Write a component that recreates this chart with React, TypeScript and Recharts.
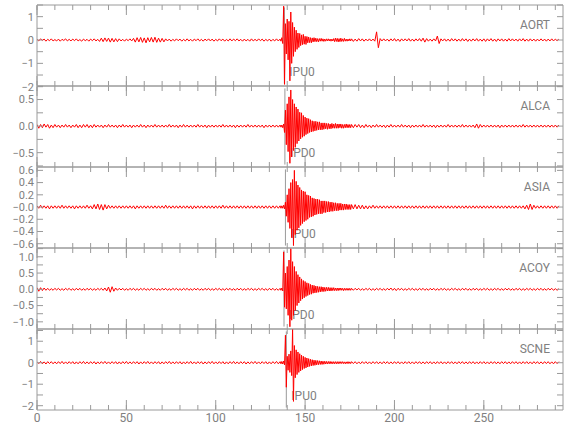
import { LineChart, Line, XAxis, YAxis, ReferenceLine } from "recharts";

// stations, top to bottom
const stations = ["AORT", "ALCA", "ASIA", "ACOY", "SCNE"];
const picks = [138.4, 138.7, 139.0, 138.2, 139.5];
const pickLabels = ["IPU0", "IPD0", "IPU0", "IPD0", "IPU0"];

const xTicks = [0, 50, 100, 150, 200, 250];
const xMinorTicks = [0, 10, 20, 30, 40, 50, 60, 70, 80, 90, 100, 110, 120, 130, 140, 150, 160, 170, 180, 190, 200, 210, 220, 230, 240, 250, 260, 270, 280, 290];

// y axes per station
const yDomains = [[-1.97, 1.5], [-0.77, 0.755], [-0.67, 0.655], [-1.22, 1.27], [-2.2, 1.57]];
const yTicks = [
  [-2, -1, 0, 1],
  [-0.5, 0, 0.5],
  [-0.6, -0.4, -0.2, 0, 0.2, 0.4, 0.6],
  [-1, -0.5, 0, 0.5, 1],
  [-2, -1, 0, 1],
];
const yTickLabels = [
  ["\u22122", "\u22121", "0", "1"],
  ["\u22120.5", "0.0", "0.5"],
  ["\u22120.6", "\u22120.4", "\u22120.2", "\u22120.0", "0.2", "0.4", "0.6"],
  ["\u22121.0", "\u22120.5", "0.0", "0.5", "1.0"],
  ["\u22122", "\u22121", "0", "1"],
];
const yMinorTicks = [
  [-2, -1.5, -1, -0.5, 0, 0.5, 1, 1.5],
  [-0.75, -0.5, -0.25, 0, 0.25, 0.5, 0.75],
  [-0.6, -0.4, -0.2, 0, 0.2, 0.4, 0.6],
  [-1, -0.75, -0.5, -0.25, 0, 0.25, 0.5, 0.75, 1, 1.25],
  [-2, -1.5, -1, -0.5, 0, 0.5, 1, 1.5],
];

// sampling of the traces: quiet part, event window, coda
const PRE_START = 0, PRE_STEP = 1;
const BURST_START = 136, BURST_STEP = 0.5;
const POST_START = 176, POST_STEP = 1;

const aortPre = [
  0.03, -0.04, 0.05, -0.02, 0.04, -0.05, 0.03, -0.03, 0.05, -0.04,
  0.02, -0.04, 0.04, -0.05, 0.03, -0.02, 0.05, -0.04, 0.03, -0.04,
  0.04, -0.03, 0.05, -0.04, 0.02, -0.05, 0.04, -0.03, 0.03, -0.05,
  0.04, -0.03, 0.05, -0.04, 0.03, -0.06, 0.08, -0.07, 0.09, -0.06,
  0.08, -0.09, 0.07, -0.08, 0.06, -0.07, 0.05, -0.04, 0.03, -0.05,
  0.04, -0.03, 0.05, -0.04, 0.07, -0.09, 0.1, -0.08, 0.11, -0.1,
  0.09, -0.12, 0.1, -0.08, 0.11, -0.09, 0.12, -0.1, 0.08, -0.09,
  0.07, -0.08, 0.05, -0.04, 0.04, -0.05, 0.03, -0.04, 0.05, -0.03,
  0.04, -0.05, 0.03, -0.04, 0.05, -0.04, 0.03, -0.05, 0.04, -0.03,
  0.05, -0.04, 0.03, -0.05, 0.04, -0.03, 0.05, -0.04, 0.04, -0.05,
  0.03, -0.04, 0.05, -0.03, 0.04, -0.05, 0.03, -0.04, 0.05, -0.04,
  0.04, -0.03, 0.05, -0.04, 0.03, -0.05, 0.04, -0.04, 0.03, -0.05,
  0.05, -0.04, 0.03, -0.04, 0.05, -0.03, 0.04, -0.05, 0.03, -0.04,
  0.04, -0.05, 0.03, -0.04, 0.05, -0.04,
];
const aortBurst = [
  0.04, -0.05, 0.1, -0.15, 1.45, -1.9, 0.7, -0.6, 0.9, -0.85,
  0.8, -1.75, 1.2, -1.0, 0.75, -0.7, 0.55, -0.5, 0.42, -0.4,
  0.3, -0.32, 0.28, -0.24, 0.22, -0.2, 0.24, -0.18, 0.16, -0.19,
  0.15, -0.12, 0.13, -0.11, 0.1, -0.12, 0.09, -0.08, 0.1, -0.07,
  0.08, -0.07, 0.06, -0.08, 0.06, -0.05, 0.07, -0.05, 0.05, -0.06,
  0.04, -0.05, 0.05, -0.04, 0.05, -0.04, 0.04, -0.05, 0.04, -0.04,
  0.06, -0.07, 0.08, -0.06, 0.07, -0.08, 0.06, -0.07, 0.08, -0.06,
  0.05, -0.06, 0.07, -0.05, 0.04, -0.05, 0.04, -0.04, 0.05, -0.04,
];
const aortPost = [
  0.05, -0.06, 0.04, -0.05, 0.06, -0.04, 0.05, -0.05, 0.04, -0.04,
  0.05, -0.04, 0.04, -0.05, 0.35, -0.33, 0.06, -0.04, 0.05, -0.04,
  0.04, -0.05, 0.05, -0.04, 0.06, -0.05, 0.04, -0.06, 0.05, -0.04,
  0.05, -0.04, 0.06, -0.05, 0.04, -0.05, 0.05, -0.04, 0.06, -0.05,
  0.08, -0.09, 0.06, -0.05, 0.04, -0.05, 0.05, -0.04, 0.17, -0.15,
  0.05, -0.04, 0.05, -0.05, 0.04, -0.05, 0.06, -0.04, 0.05, -0.05,
  0.04, -0.05, 0.06, -0.04, 0.05, -0.06, 0.04, -0.05, 0.05, -0.04,
  0.06, -0.05, 0.04, -0.05, 0.05, -0.06, 0.05, -0.04, 0.06, -0.05,
  0.04, -0.06, 0.05, -0.04, 0.05, -0.05, 0.04, -0.05, 0.06, -0.04,
  0.05, -0.04, 0.04, -0.05, 0.05, -0.04, 0.06, -0.05, 0.04, -0.05,
  0.05, -0.04, 0.04, -0.05, 0.04, -0.04, 0.05, -0.04, 0.04, -0.05,
  0.04, -0.04, 0.05, -0.04, 0.04, -0.03, 0.04,
];

const alcaPre = [
  0.03, -0.04, 0.03, -0.03, 0.04, -0.02, 0.03, -0.04, 0.02, -0.03,
  0.03, -0.02, 0.02, -0.03, 0.02, -0.02, 0.03, -0.02, 0.02, -0.03,
  0.02, -0.02, 0.03, -0.03, 0.02, -0.03, 0.03, -0.02, 0.03, -0.03,
  0.02, -0.03, 0.03, -0.02, 0.02, -0.02, 0.02, -0.03, 0.02, -0.02,
  0.03, -0.02, 0.02, -0.02, 0.02, -0.03, 0.02, -0.02, 0.03, -0.02,
  0.02, -0.02, 0.02, -0.03, 0.02, -0.02, 0.02, -0.02, 0.03, -0.02,
  0.02, -0.03, 0.02, -0.02, 0.02, -0.02, 0.03, -0.02, 0.02, -0.02,
  0.02, -0.02, 0.02, -0.02, 0.03, -0.02, 0.02, -0.02, 0.02, -0.03,
  0.02, -0.02, 0.03, -0.02, 0.02, -0.02, 0.02, -0.02, 0.02, -0.02,
  0.03, -0.02, 0.02, -0.02, 0.02, -0.03, 0.02, -0.02, 0.02, -0.02,
  0.02, -0.02, 0.02, -0.02, 0.03, -0.02, 0.02, -0.02, 0.02, -0.02,
  0.02, -0.03, 0.02, -0.02, 0.02, -0.02, 0.02, -0.02, 0.03, -0.02,
  0.02, -0.02, 0.02, -0.02, 0.02, -0.02, 0.02, -0.03, 0.02, -0.02,
  0.02, -0.02, 0.02, -0.02, 0.02, -0.02,
];
const alcaBurst = [
  0.02, -0.02, 0.02, -0.03, 0.04, -0.12, 0.3, -0.35, 0.42, -0.48,
  0.55, -0.7, 0.68, -0.58, 0.5, -0.46, 0.42, -0.4, 0.36, -0.33,
  0.32, -0.28, 0.26, -0.24, 0.25, -0.21, 0.2, -0.19, 0.17, -0.16,
  0.15, -0.14, 0.14, -0.12, 0.12, -0.11, 0.1, -0.1, 0.09, -0.09,
  0.09, -0.08, 0.08, -0.07, 0.08, -0.07, 0.06, -0.07, 0.06, -0.06,
  0.06, -0.05, 0.05, -0.06, 0.05, -0.05, 0.04, -0.05, 0.05, -0.04,
  0.04, -0.04, 0.05, -0.04, 0.04, -0.04, 0.04, -0.03, 0.04, -0.04,
  0.03, -0.04, 0.03, -0.03, 0.04, -0.03, 0.03, -0.03, 0.03, -0.03,
];
const alcaPost = [
  0.03, -0.03, 0.03, -0.02, 0.03, -0.03, 0.02, -0.03, 0.03, -0.02,
  0.02, -0.03, 0.02, -0.02, 0.03, -0.02, 0.02, -0.02, 0.02, -0.03,
  0.02, -0.02, 0.03, -0.02, 0.02, -0.02, 0.02, -0.02, 0.03, -0.02,
  0.02, -0.02, 0.02, -0.03, 0.02, -0.02, 0.02, -0.02, 0.02, -0.02,
  0.03, -0.02, 0.02, -0.02, 0.02, -0.02, 0.02, -0.03, 0.02, -0.02,
  0.02, -0.02, 0.02, -0.02, 0.03, -0.02, 0.02, -0.02, 0.02, -0.02,
  0.02, -0.02, 0.03, -0.02, 0.02, -0.02, 0.02, -0.02, 0.02, -0.03,
  0.04, -0.04, 0.03, -0.02, 0.02, -0.02, 0.02, -0.02, 0.02, -0.02,
  0.02, -0.02, 0.02, -0.03, 0.02, -0.02, 0.02, -0.02, 0.02, -0.02,
  0.02, -0.02, 0.02, -0.02, 0.02, -0.02, 0.03, -0.02, 0.02, -0.02,
  0.02, -0.02, 0.02, -0.02, 0.02, -0.02, 0.02, -0.02, 0.02, -0.02,
  0.02, -0.02, 0.02, -0.02, 0.02, -0.02, 0.02,
];

const asiaPre = [
  0.02, -0.02, 0.03, -0.02, 0.02, -0.02, 0.02, -0.03, 0.02, -0.02,
  0.02, -0.02, 0.02, -0.02, 0.03, -0.02, 0.02, -0.02, 0.02, -0.02,
  0.02, -0.03, 0.02, -0.02, 0.02, -0.02, 0.02, -0.02, 0.03, -0.02,
  0.02, -0.03, 0.04, -0.03, 0.05, -0.04, 0.04, -0.05, 0.04, -0.03,
  0.03, -0.02, 0.02, -0.02, 0.02, -0.02, 0.02, -0.02, 0.02, -0.02,
  0.02, -0.02, 0.02, -0.02, 0.02, -0.03, 0.02, -0.02, 0.02, -0.02,
  0.02, -0.02, 0.02, -0.02, 0.02, -0.02, 0.02, -0.02, 0.02, -0.02,
  0.02, -0.02, 0.03, -0.02, 0.02, -0.02, 0.02, -0.02, 0.02, -0.02,
  0.02, -0.02, 0.02, -0.02, 0.02, -0.02, 0.02, -0.03, 0.02, -0.02,
  0.02, -0.02, 0.02, -0.02, 0.02, -0.02, 0.02, -0.02, 0.02, -0.02,
  0.02, -0.02, 0.02, -0.02, 0.03, -0.02, 0.02, -0.02, 0.02, -0.02,
  0.02, -0.02, 0.02, -0.02, 0.02, -0.02, 0.02, -0.02, 0.02, -0.02,
  0.02, -0.02, 0.02, -0.02, 0.02, -0.02, 0.02, -0.02, 0.02, -0.02,
  0.02, -0.02, 0.02, -0.02, 0.02, -0.02,
];
const asiaBurst = [
  0.02, -0.02, 0.02, -0.02, 0.03, -0.03, 0.08, -0.15, 0.2, -0.25,
  0.3, -0.35, 0.4, -0.5, 0.45, -0.63, 0.6, -0.45, 0.42, -0.38,
  0.36, -0.34, 0.32, -0.3, 0.28, -0.27, 0.26, -0.24, 0.25, -0.22,
  0.2, -0.2, 0.19, -0.17, 0.18, -0.16, 0.15, -0.15, 0.14, -0.13,
  0.13, -0.12, 0.13, -0.11, 0.12, -0.11, 0.1, -0.11, 0.1, -0.09,
  0.1, -0.09, 0.09, -0.08, 0.09, -0.08, 0.08, -0.07, 0.08, -0.07,
  0.07, -0.06, 0.07, -0.06, 0.06, -0.06, 0.06, -0.05, 0.06, -0.05,
  0.05, -0.05, 0.05, -0.04, 0.05, -0.04, 0.04, -0.04, 0.04, -0.04,
];
const asiaPost = [
  0.04, -0.03, 0.04, -0.03, 0.03, -0.03, 0.03, -0.03, 0.02, -0.03,
  0.02, -0.02, 0.03, -0.02, 0.02, -0.02, 0.02, -0.02, 0.02, -0.02,
  0.02, -0.02, 0.02, -0.02, 0.02, -0.02, 0.02, -0.02, 0.02, -0.02,
  0.02, -0.02, 0.02, -0.02, 0.02, -0.02, 0.02, -0.02, 0.02, -0.02,
  0.02, -0.02, 0.02, -0.02, 0.02, -0.02, 0.02, -0.02, 0.02, -0.02,
  0.02, -0.02, 0.02, -0.02, 0.02, -0.02, 0.02, -0.02, 0.02, -0.02,
  0.02, -0.02, 0.02, -0.02, 0.02, -0.02, 0.02, -0.02, 0.02, -0.02,
  0.02, -0.02, 0.02, -0.02, 0.02, -0.02, 0.02, -0.02, 0.02, -0.02,
  0.02, -0.02, 0.02, -0.02, 0.02, -0.02, 0.02, -0.02, 0.02, -0.02,
  0.02, -0.02, 0.02, -0.02, 0.02, -0.02, 0.02, -0.03, 0.03, -0.04,
  0.05, -0.04, 0.03, -0.02, 0.02, -0.02, 0.02, -0.02, 0.02, -0.02,
  0.02, -0.02, 0.02, -0.02, 0.02, -0.02, 0.02,
];

const acoyPre = [
  0.05, -0.06, 0.05, -0.04, 0.04, -0.03, 0.03, -0.03, 0.02, -0.03,
  0.03, -0.02, 0.03, -0.03, 0.02, -0.03, 0.03, -0.02, 0.03, -0.03,
  0.02, -0.03, 0.03, -0.02, 0.03, -0.03, 0.02, -0.03, 0.03, -0.02,
  0.03, -0.03, 0.02, -0.03, 0.03, -0.02, 0.03, -0.03, 0.04, -0.05,
  0.07, -0.09, 0.08, -0.06, 0.04, -0.03, 0.03, -0.02, 0.03, -0.03,
  0.02, -0.03, 0.03, -0.02, 0.03, -0.03, 0.02, -0.03, 0.03, -0.02,
  0.03, -0.03, 0.02, -0.03, 0.03, -0.02, 0.03, -0.03, 0.02, -0.03,
  0.03, -0.02, 0.03, -0.03, 0.02, -0.03, 0.03, -0.02, 0.03, -0.03,
  0.02, -0.03, 0.03, -0.02, 0.03, -0.03, 0.02, -0.03, 0.03, -0.02,
  0.03, -0.03, 0.02, -0.03, 0.03, -0.02, 0.03, -0.03, 0.02, -0.03,
  0.03, -0.02, 0.03, -0.03, 0.02, -0.03, 0.03, -0.02, 0.03, -0.03,
  0.02, -0.03, 0.03, -0.02, 0.03, -0.03, 0.02, -0.03, 0.03, -0.02,
  0.03, -0.03, 0.02, -0.03, 0.03, -0.02, 0.03, -0.03, 0.02, -0.03,
  0.03, -0.02, 0.03, -0.03, 0.02, -0.03,
];
const acoyBurst = [
  0.03, -0.03, 0.04, -0.05, 1.15, -0.55, 0.5, -0.6, 0.7, -0.8,
  0.9, -1.15, 1.25, -0.95, 0.85, -0.8, 0.7, -0.65, 0.55, -0.5,
  0.45, -0.42, 0.38, -0.35, 0.32, -0.3, 0.27, -0.26, 0.24, -0.22,
  0.2, -0.19, 0.18, -0.16, 0.15, -0.15, 0.13, -0.12, 0.12, -0.11,
  0.1, -0.1, 0.09, -0.09, 0.08, -0.08, 0.08, -0.07, 0.07, -0.07,
  0.06, -0.06, 0.06, -0.05, 0.06, -0.05, 0.05, -0.05, 0.05, -0.04,
  0.05, -0.04, 0.04, -0.04, 0.04, -0.04, 0.04, -0.03, 0.04, -0.03,
  0.03, -0.04, 0.03, -0.03, 0.03, -0.03, 0.03, -0.03, 0.03, -0.03,
];
const acoyPost = [
  0.03, -0.03, 0.03, -0.02, 0.03, -0.03, 0.02, -0.03, 0.03, -0.02,
  0.03, -0.03, 0.02, -0.03, 0.03, -0.02, 0.03, -0.03, 0.02, -0.03,
  0.03, -0.02, 0.04, -0.03, 0.03, -0.04, 0.03, -0.02, 0.03, -0.03,
  0.02, -0.03, 0.03, -0.02, 0.03, -0.03, 0.02, -0.03, 0.03, -0.02,
  0.03, -0.03, 0.02, -0.03, 0.03, -0.02, 0.03, -0.03, 0.02, -0.03,
  0.03, -0.02, 0.03, -0.03, 0.02, -0.03, 0.03, -0.02, 0.03, -0.03,
  0.02, -0.03, 0.03, -0.02, 0.03, -0.03, 0.02, -0.03, 0.03, -0.02,
  0.03, -0.03, 0.02, -0.03, 0.03, -0.02, 0.03, -0.03, 0.02, -0.03,
  0.03, -0.02, 0.03, -0.03, 0.02, -0.03, 0.03, -0.02, 0.03, -0.03,
  0.02, -0.03, 0.03, -0.02, 0.03, -0.03, 0.02, -0.03, 0.03, -0.02,
  0.03, -0.03, 0.02, -0.03, 0.03, -0.02, 0.03, -0.03, 0.02, -0.03,
  0.03, -0.02, 0.03, -0.03, 0.02, -0.03, 0.02,
];

const scnePre = [
  0.05, -0.04, 0.06, -0.05, 0.04, -0.06, 0.05, -0.04, 0.05, -0.05,
  0.04, -0.05, 0.05, -0.04, 0.06, -0.05, 0.04, -0.05, 0.05, -0.04,
  0.05, -0.06, 0.04, -0.05, 0.05, -0.04, 0.06, -0.05, 0.04, -0.05,
  0.05, -0.04, 0.05, -0.06, 0.04, -0.05, 0.05, -0.04, 0.06, -0.05,
  0.04, -0.05, 0.05, -0.04, 0.05, -0.06, 0.04, -0.05, 0.05, -0.04,
  0.06, -0.05, 0.04, -0.05, 0.05, -0.04, 0.05, -0.06, 0.04, -0.05,
  0.05, -0.04, 0.06, -0.05, 0.04, -0.05, 0.05, -0.04, 0.05, -0.06,
  0.04, -0.05, 0.05, -0.04, 0.06, -0.05, 0.04, -0.05, 0.05, -0.04,
  0.05, -0.06, 0.04, -0.05, 0.05, -0.04, 0.06, -0.05, 0.04, -0.05,
  0.05, -0.04, 0.05, -0.06, 0.04, -0.05, 0.05, -0.04, 0.06, -0.05,
  0.04, -0.05, 0.05, -0.04, 0.05, -0.06, 0.04, -0.05, 0.05, -0.04,
  0.06, -0.05, 0.04, -0.05, 0.05, -0.04, 0.05, -0.06, 0.04, -0.05,
  0.05, -0.04, 0.06, -0.05, 0.04, -0.05, 0.05, -0.04, 0.05, -0.06,
  0.04, -0.05, 0.05, -0.04, 0.06, -0.05,
];
const scneBurst = [
  0.05, -0.05, 0.06, -0.06, 0.08, -0.1, 1.28, -1.14, 0.3, -0.35,
  0.4, -0.45, 0.55, -0.6, 1.6, -1.8, 0.8, -0.7, 0.6, -0.55,
  0.5, -0.45, 0.42, -0.38, 0.35, -0.32, 0.3, -0.27, 0.25, -0.24,
  0.22, -0.2, 0.19, -0.17, 0.16, -0.15, 0.14, -0.13, 0.12, -0.12,
  0.11, -0.1, 0.1, -0.09, 0.09, -0.08, 0.08, -0.08, 0.07, -0.07,
  0.07, -0.06, 0.06, -0.06, 0.06, -0.05, 0.06, -0.05, 0.05, -0.05,
  0.05, -0.05, 0.05, -0.05, 0.05, -0.05, 0.05, -0.04, 0.05, -0.04,
  0.05, -0.04, 0.04, -0.05, 0.04, -0.04, 0.05, -0.04, 0.04, -0.04,
];
const scnePost = [
  0.05, -0.04, 0.05, -0.05, 0.04, -0.05, 0.05, -0.04, 0.05, -0.05,
  0.04, -0.05, 0.05, -0.04, 0.05, -0.05, 0.04, -0.05, 0.05, -0.04,
  0.05, -0.05, 0.04, -0.05, 0.05, -0.04, 0.05, -0.05, 0.04, -0.05,
  0.05, -0.04, 0.05, -0.05, 0.04, -0.05, 0.05, -0.04, 0.05, -0.05,
  0.04, -0.05, 0.05, -0.04, 0.05, -0.05, 0.04, -0.05, 0.05, -0.04,
  0.05, -0.05, 0.04, -0.05, 0.05, -0.04, 0.05, -0.05, 0.04, -0.05,
  0.05, -0.04, 0.05, -0.05, 0.04, -0.05, 0.05, -0.04, 0.05, -0.05,
  0.04, -0.05, 0.05, -0.04, 0.05, -0.05, 0.04, -0.05, 0.05, -0.04,
  0.05, -0.05, 0.04, -0.05, 0.05, -0.04, 0.05, -0.05, 0.04, -0.05,
  0.05, -0.04, 0.05, -0.05, 0.04, -0.05, 0.05, -0.04, 0.05, -0.05,
  0.04, -0.05, 0.05, -0.04, 0.05, -0.05, 0.04, -0.05, 0.05, -0.04,
  0.05, -0.05, 0.04, -0.05, 0.05, -0.04, 0.05,
];

const traces = [
  [aortPre, aortBurst, aortPost],
  [alcaPre, alcaBurst, alcaPost],
  [asiaPre, asiaBurst, asiaPost],
  [acoyPre, acoyBurst, acoyPost],
  [scnePre, scneBurst, scnePost],
];

const X_DOMAIN: [number, number] = [0, 294.3];
const AXIS = "#9a9a9a";
const TEXT = "#808080";
const FONT = "Roboto, 'Liberation Sans', sans-serif";
const FS = 11;

const PANEL_TOP = 5;
const PANEL_H = 81;
const PAD = 10;

// tick marks only, no tick text
const noText = () => <g />;

function toSeries(pre: number[], burst: number[], post: number[]) {
  const pts: { t: number; v: number }[] = [];
  pre.forEach((v, i) => pts.push({ t: PRE_START + i * PRE_STEP, v }));
  burst.forEach((v, i) => pts.push({ t: BURST_START + i * BURST_STEP, v }));
  post.forEach((v, i) => pts.push({ t: POST_START + i * POST_STEP, v }));
  return pts;
}

function Panel({ idx }: { idx: number }) {
  const isLast = idx === stations.length - 1;
  const h = PANEL_H + PAD + (isLast ? 25 : PAD);
  const [lo, hi] = yDomains[idx];
  const inset = (hi - lo) * 0.03;
  const series = toSeries(traces[idx][0], traces[idx][1], traces[idx][2]);
  const fmt = (v: number) => {
    const k = yTicks[idx].indexOf(v);
    return k >= 0 ? yTickLabels[idx][k] : String(v);
  };
  const pickLabel = pickLabels[idx];

  return (
    <div style={{ position: "absolute", left: 0, top: PANEL_TOP + idx * PANEL_H - PAD, width: 580, height: h }}>
      <LineChart width={580} height={h} data={series}
        margin={{ top: PAD, right: 17, bottom: isLast ? 0 : PAD, left: 0 }}>
        {/* frame and tick marks, pointing inwards */}
        <XAxis xAxisId="x" type="number" dataKey="t" domain={X_DOMAIN} allowDataOverflow orientation="top" mirror height={1}
          ticks={xMinorTicks} interval={0} tick={noText} tickSize={5} stroke={AXIS} />
        <XAxis xAxisId="xt" type="number" dataKey="t" domain={X_DOMAIN} allowDataOverflow orientation="top" mirror height={1}
          ticks={xTicks} interval={0} tick={noText} tickSize={9} axisLine={false} stroke={AXIS} />
        <XAxis xAxisId="xb" type="number" dataKey="t" domain={X_DOMAIN} allowDataOverflow orientation="bottom" mirror height={1}
          ticks={xMinorTicks} interval={0} tick={noText} tickSize={5} stroke={AXIS} />
        <XAxis xAxisId="xbm" type="number" dataKey="t" domain={X_DOMAIN} allowDataOverflow orientation="bottom" mirror height={1}
          ticks={xTicks} interval={0} tick={noText} tickSize={9} axisLine={false} stroke={AXIS} />
        {isLast && (
          <XAxis xAxisId="xl" type="number" dataKey="t" domain={X_DOMAIN} allowDataOverflow orientation="bottom" height={25}
            ticks={xTicks} interval={0} tickLine={false} axisLine={false} tickSize={0} tickMargin={3}
            tick={{ fill: TEXT, fontSize: FS + 1, fontFamily: FONT }} />
        )}

        <YAxis yAxisId="y" type="number" dataKey="v" domain={yDomains[idx]} allowDataOverflow width={37}
          ticks={yTicks[idx]} interval={0} tickFormatter={fmt} tickLine={false} tickSize={0} tickMargin={3}
          stroke={AXIS} tick={{ fill: TEXT, fontSize: FS, fontFamily: FONT }} />
        <YAxis yAxisId="yl" type="number" dataKey="v" domain={yDomains[idx]} allowDataOverflow mirror width={1}
          ticks={yMinorTicks[idx]} interval={0} tick={noText} tickSize={6} axisLine={false} stroke={AXIS} />
        <YAxis yAxisId="yr" type="number" dataKey="v" domain={yDomains[idx]} allowDataOverflow orientation="right" mirror width={1}
          ticks={yMinorTicks[idx]} interval={0} tick={noText} tickSize={6} stroke={AXIS} />

        <ReferenceLine xAxisId="x" yAxisId="y"
          segment={[{ x: picks[idx], y: lo + inset }, { x: picks[idx], y: hi - inset }]}
          stroke={AXIS} strokeWidth={1}
          label={(p: any) => {
            const vb = p.viewBox || {};
            return (
              <text x={vb.x + 5} y={vb.y + vb.height - 8} fill={TEXT} fontSize={FS + 1} fontFamily={FONT}>
                {pickLabel}
              </text>
            );
          }}
        />

        <Line xAxisId="x" yAxisId="y" dataKey="v" type="linear" stroke="#ff0000" strokeWidth={1}
          dot={false} activeDot={false} isAnimationActive={false} />
      </LineChart>
      <div style={{ position: "absolute", left: 0, top: PAD + 13, width: 550, textAlign: "right",
        fontFamily: FONT, fontSize: FS + 1, lineHeight: "14px", color: TEXT }}>
        {stations[idx]}
      </div>
    </div>
  );
}

export default function App() {
  return (
    <div style={{ position: "absolute", left: 0, top: 0, width: 580, height: 440, background: "#fff" }}>
      {stations.map((s, i) => (
        <Panel key={s} idx={i} />
      ))}
    </div>
  );
}
